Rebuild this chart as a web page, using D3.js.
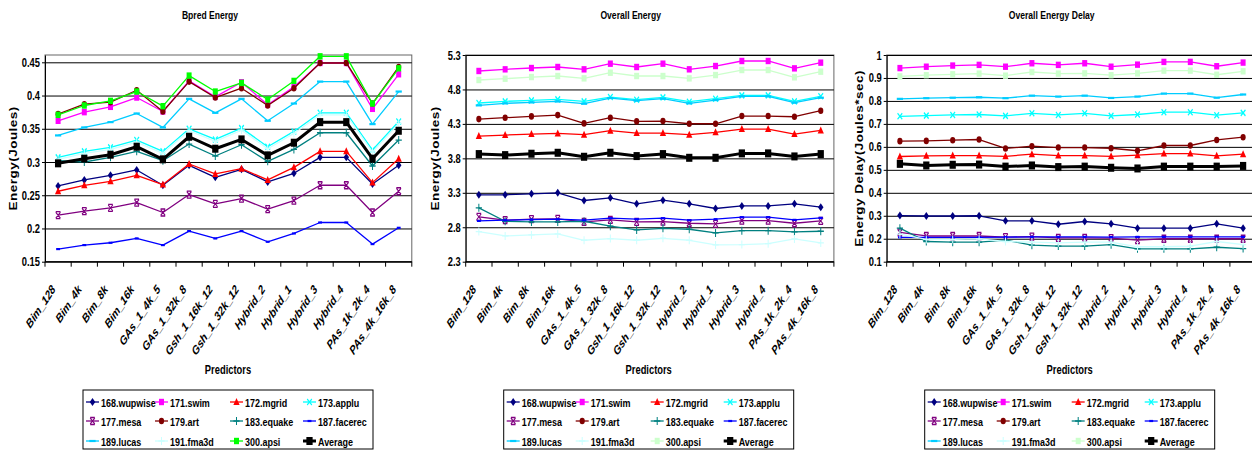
<!DOCTYPE html>
<html lang="en">
<head>
<meta charset="UTF-8">
<title>Bpred / Overall Energy</title>
<script src="https://cdn.jsdelivr.net/npm/d3@7"></script>
<style>
  body { margin: 0; background: #fff; }
  svg { display: block; font-family: "Liberation Sans", Arial, sans-serif; }
</style>
</head>
<body>
<svg></svg>
<script>
const width = 1252, height = 451;
const SX = 0.78;   // the original picture is squeezed sideways, so text is squeezed too

// ---- data ----
const predictors = ['Bim_128', 'Bim_4k', 'Bim_8k', 'Bim_16k', 'GAs_1_4k_5', 'GAs_1_32k_8', 'Gsh_1_16k_12',
    'Gsh_1_32k_12', 'Hybrid_2', 'Hybrid_1', 'Hybrid_3', 'Hybrid_4', 'PAs_1k_2k_4', 'PAs_4k_16k_8'];
const benchmarks = ['168.wupwise', '171.swim', '172.mgrid', '173.applu', '177.mesa', '179.art',
    '183.equake', '187.facerec', '189.lucas', '191.fma3d', '300.apsi', 'Average'];

// one row per benchmark, same order as above
const bpredEnergy = [
    [0.264, 0.273, 0.280, 0.288, 0.265, 0.295, 0.277, 0.289, 0.270, 0.283, 0.307, 0.307, 0.267, 0.295],
    [0.362, 0.375, 0.383, 0.397, 0.376, 0.422, 0.398, 0.420, 0.386, 0.413, 0.449, 0.449, 0.380, 0.432],
    [0.256, 0.265, 0.271, 0.280, 0.266, 0.297, 0.282, 0.290, 0.273, 0.292, 0.316, 0.316, 0.269, 0.305],
    [0.307, 0.316, 0.322, 0.333, 0.316, 0.350, 0.334, 0.351, 0.323, 0.346, 0.374, 0.374, 0.318, 0.361],
    [0.220, 0.226, 0.231, 0.239, 0.224, 0.251, 0.237, 0.245, 0.229, 0.242, 0.265, 0.265, 0.224, 0.256],
    [0.372, 0.387, 0.390, 0.408, 0.376, 0.421, 0.397, 0.411, 0.385, 0.411, 0.449, 0.449, 0.388, 0.443],
    [0.302, 0.300, 0.307, 0.316, 0.302, 0.327, 0.309, 0.326, 0.301, 0.319, 0.344, 0.344, 0.294, 0.333],
    [0.169, 0.175, 0.1785, 0.185, 0.175, 0.196, 0.185, 0.196, 0.180, 0.1925, 0.209, 0.209, 0.1765, 0.201],
    [0.340, 0.352, 0.360, 0.373, 0.352, 0.395, 0.374, 0.395, 0.362, 0.388, 0.421, 0.421, 0.357, 0.406],
    [0.304, 0.313, 0.319, 0.330, 0.313, 0.347, 0.331, 0.348, 0.320, 0.343, 0.371, 0.371, 0.315, 0.358],
    [0.371, 0.385, 0.392, 0.406, 0.384, 0.430, 0.406, 0.419, 0.394, 0.422, 0.459, 0.459, 0.388, 0.441],
    [0.298, 0.305, 0.311, 0.323, 0.304, 0.338, 0.320, 0.334, 0.310, 0.329, 0.360, 0.360, 0.305, 0.347]
];
const overallEnergy = [
    [3.271, 3.271, 3.285, 3.300, 3.188, 3.227, 3.140, 3.193, 3.140, 3.072, 3.110, 3.110, 3.140, 3.091],
    [5.068, 5.092, 5.111, 5.126, 5.092, 5.174, 5.126, 5.174, 5.092, 5.140, 5.213, 5.213, 5.106, 5.189],
    [4.123, 4.138, 4.152, 4.162, 4.143, 4.201, 4.167, 4.167, 4.143, 4.177, 4.225, 4.225, 4.152, 4.205],
    [4.603, 4.627, 4.641, 4.656, 4.627, 4.690, 4.651, 4.685, 4.622, 4.666, 4.714, 4.714, 4.627, 4.700],
    [2.950, 2.902, 2.917, 2.921, 2.878, 2.907, 2.878, 2.883, 2.858, 2.849, 2.897, 2.897, 2.858, 2.892],
    [4.370, 4.390, 4.409, 4.428, 4.307, 4.390, 4.336, 4.341, 4.302, 4.302, 4.414, 4.414, 4.404, 4.491],
    [3.082, 2.887, 2.878, 2.878, 2.887, 2.815, 2.761, 2.785, 2.771, 2.717, 2.751, 2.751, 2.732, 2.742],
    [2.892, 2.902, 2.912, 2.917, 2.902, 2.931, 2.917, 2.931, 2.902, 2.917, 2.946, 2.946, 2.907, 2.936],
    [4.569, 4.598, 4.612, 4.627, 4.593, 4.675, 4.637, 4.666, 4.598, 4.646, 4.700, 4.700, 4.608, 4.680],
    [2.737, 2.674, 2.688, 2.703, 2.611, 2.635, 2.611, 2.640, 2.611, 2.543, 2.548, 2.562, 2.630, 2.572],
    [4.937, 4.956, 4.980, 4.995, 4.961, 5.043, 4.995, 4.995, 4.961, 5.009, 5.082, 5.082, 4.976, 5.058],
    [3.862, 3.847, 3.867, 3.881, 3.823, 3.881, 3.833, 3.862, 3.808, 3.808, 3.872, 3.872, 3.828, 3.862]
];
const energyDelay = [
    [0.301, 0.299, 0.299, 0.300, 0.278, 0.278, 0.263, 0.275, 0.265, 0.246, 0.246, 0.246, 0.265, 0.246],
    [0.943, 0.949, 0.954, 0.957, 0.949, 0.964, 0.957, 0.964, 0.949, 0.958, 0.970, 0.970, 0.951, 0.967],
    [0.558, 0.561, 0.562, 0.562, 0.559, 0.568, 0.562, 0.562, 0.559, 0.564, 0.571, 0.571, 0.561, 0.568],
    [0.733, 0.736, 0.739, 0.741, 0.735, 0.746, 0.739, 0.746, 0.735, 0.741, 0.751, 0.751, 0.738, 0.748],
    [0.228, 0.212, 0.212, 0.212, 0.207, 0.209, 0.204, 0.204, 0.203, 0.194, 0.200, 0.200, 0.200, 0.200],
    [0.625, 0.626, 0.629, 0.632, 0.593, 0.603, 0.597, 0.597, 0.594, 0.583, 0.606, 0.606, 0.630, 0.642],
    [0.246, 0.188, 0.185, 0.185, 0.194, 0.172, 0.168, 0.168, 0.174, 0.156, 0.156, 0.156, 0.163, 0.157],
    [0.206, 0.206, 0.206, 0.206, 0.207, 0.208, 0.208, 0.208, 0.207, 0.208, 0.208, 0.208, 0.208, 0.208],
    [0.809, 0.812, 0.814, 0.816, 0.812, 0.823, 0.819, 0.823, 0.813, 0.819, 0.832, 0.832, 0.814, 0.828],
    [0.220, 0.197, 0.197, 0.199, 0.188, 0.185, 0.182, 0.185, 0.185, 0.165, 0.165, 0.168, 0.188, 0.174],
    [0.907, 0.912, 0.916, 0.919, 0.910, 0.926, 0.919, 0.920, 0.912, 0.920, 0.932, 0.932, 0.914, 0.929],
    [0.526, 0.519, 0.522, 0.523, 0.514, 0.519, 0.512, 0.514, 0.509, 0.506, 0.514, 0.514, 0.514, 0.517]
];

const bpredTicks = [0.15, 0.2, 0.25, 0.3, 0.35, 0.4, 0.45];
const energyTicks = [2.3, 2.8, 3.3, 3.8, 4.3, 4.8, 5.3];
const delayTicks = [0.1, 0.2, 0.3, 0.4, 0.5, 0.6, 0.7, 0.8, 0.9, 1];

// ---- styles ----
const colors = ['#000080', '#FF00FF', '#FF0000', '#00FFFF', '#800080', '#800000',
    '#008080', '#0000FF', '#00CCFF', '#CCFFFF', '#CCFFCC', '#000000'];
const markers = ['diamond', 'square', 'triangle', 'x', 'star', 'circle',
    'plus', 'dash', 'longdash', 'plus', 'square', 'bigsquare'];

const panels = [
    { title: 'Bpred Energy', yTitle: 'Energy(Joules)', values: bpredEnergy, domain: [0.15, 0.461], ticks: bpredTicks, left: 45, step: 26.2, apsi: '#00FF00', yTitleX: -32 },
    { title: 'Overall Energy', yTitle: 'Energy(Joules)', values: overallEnergy, domain: [2.3, 5.3], ticks: energyTicks, left: 465.7, step: 26.3, apsi: '#CCFFCC', yTitleX: -30 },
    { title: 'Overall Energy Delay', yTitle: 'Energy Delay(Joules*sec)', values: energyDelay, domain: [0.1, 1], ticks: delayTicks, left: 886.7, step: 26.4, apsi: '#CCFFCC', yTitleX: -27 }
];

const plotTop = 55, plotBottom = 261.7;

const svg = d3.select('svg')
    .attr('width', width)
    .attr('height', height);

// squeezed text helper
function label(g, x, y, str, rot) {
    return g.append('text')
        .attr('transform', `translate(${x},${y}) scale(${SX},1)` + (rot ? ` rotate(${rot})` : ''))
        .text(str);
}

function drawMarker(g, type, color) {
    const s = g.append('g').attr('transform', `scale(${SX},1)`);
    if (type === 'diamond') s.append('path').attr('d', 'M0,-4L3.5,0L0,4L-3.5,0Z').attr('fill', color);
    else if (type === 'square') s.append('rect').attr('x', -3.2).attr('y', -3.2).attr('width', 6.4).attr('height', 6.4).attr('fill', color);
    else if (type === 'bigsquare') s.append('rect').attr('x', -4).attr('y', -4).attr('width', 8).attr('height', 8).attr('fill', color);
    else if (type === 'triangle') s.append('path').attr('d', 'M0,-4L4,3L-4,3Z').attr('fill', color);
    else if (type === 'circle') s.append('circle').attr('r', 3.3).attr('fill', color);
    else if (type === 'x') s.append('path').attr('d', 'M-3,-3L3,3M-3,3L3,-3').attr('stroke', color).attr('stroke-width', 1.5);
    else if (type === 'star') s.append('path').attr('d', 'M-3,-3L3,3M-3,3L3,-3M-3,-3.5L3,-3.5M-3,3.5L3,3.5').attr('stroke', color).attr('stroke-width', 1.3);
    else if (type === 'plus') s.append('path').attr('d', 'M-4,0L4,0M0,-4L0,4').attr('stroke', color).attr('stroke-width', 1.3);
    else if (type === 'dash') s.append('path').attr('d', 'M-2.5,0L2.5,0').attr('stroke', color).attr('stroke-width', 2.2);
    else if (type === 'longdash') s.append('path').attr('d', 'M-4,0L4,0').attr('stroke', color).attr('stroke-width', 2.2);
}

panels.forEach(p => {
    const g = svg.append('g');
    const right = p.left + p.step * predictors.length;

    const x = d3.scalePoint()
        .domain(predictors)
        .range([p.left, right])
        .padding(0.5);
    const y = d3.scaleLinear()
        .domain(p.domain)
        .range([plotBottom, plotTop]);

    // plot frame (top/right) and grid lines
    g.append('rect')
        .attr('x', p.left).attr('y', plotTop)
        .attr('width', right - p.left).attr('height', plotBottom - plotTop)
        .attr('fill', 'none').attr('stroke', '#666').attr('stroke-width', 1);
    g.append('g')
        .attr('transform', `translate(${p.left},0)`)
        .call(d3.axisLeft(y).tickValues(p.ticks).tickSize(-(right - p.left)).tickFormat(''))
        .call(a => a.select('.domain').remove())
        .call(a => a.selectAll('line').attr('stroke', '#000').attr('stroke-width', 1));

    // series, Average drawn last on top
    const line = d3.line().x((d, i) => x(predictors[i])).y(d => y(d));
    p.values.forEach((vals, k) => {
        const color = k === 10 ? p.apsi : colors[k];
        const sg = g.append('g');
        sg.append('path')
            .attr('d', line(vals))
            .attr('fill', 'none')
            .attr('stroke', color)
            .attr('stroke-width', k === 11 ? 3 : 1.3)
            .attr('stroke-linejoin', 'round');
        vals.forEach((v, i) => {
            const mg = sg.append('g').attr('transform', `translate(${x(predictors[i])},${y(v)})`);
            drawMarker(mg, markers[k], color);
        });
    });

    // y axis
    const ya = g.append('g')
        .attr('transform', `translate(${p.left},0)`)
        .call(d3.axisLeft(y).tickValues(p.ticks).tickSize(3).tickSizeOuter(0).tickFormat(d => +d.toFixed(2)));
    ya.select('.domain').attr('stroke', '#000');
    ya.selectAll('.tick line').attr('stroke', '#000');
    ya.selectAll('.tick text')
        .attr('x', null).attr('dy', null)
        .attr('transform', `translate(-5,4) scale(${SX},1)`)
        .attr('font-family', '"Liberation Sans", Arial, sans-serif')
        .attr('font-size', 12).attr('font-weight', 'bold').attr('fill', '#000');

    // x axis with ticks on band edges
    const xa = g.append('g').attr('transform', `translate(0,${plotBottom})`);
    xa.append('line').attr('x1', p.left).attr('x2', right).attr('stroke', '#000');
    d3.range(predictors.length + 1).forEach(i => {
        const tx = p.left + i * p.step;
        xa.append('line').attr('x1', tx).attr('x2', tx).attr('y1', 0).attr('y2', 5).attr('stroke', '#000');
    });
    predictors.forEach(c => {
        label(xa, x(c) - 2, 28, c, -50)
            .attr('text-anchor', 'end')
            .attr('font-size', 12.5).attr('font-weight', 'bold').attr('font-style', 'italic');
    });

    // titles
    label(g, p.left + 165, 18.5, p.title).attr('text-anchor', 'middle')
        .attr('font-size', 11).attr('font-weight', 'bold');
    label(g, p.left + 183, 374, 'Predictors').attr('text-anchor', 'middle')
        .attr('font-size', 12).attr('font-weight', 'bold');
    label(g, p.left + p.yTitleX, (plotTop + plotBottom) / 2 + 0, p.yTitle, -90)
        .attr('dy', '0.35em').attr('text-anchor', 'middle')
        .attr('font-size', 13.5).attr('font-weight', 'bold').attr('letter-spacing', 0.5);

    // legend
    const lg = g.append('g').attr('transform', `translate(${p.left + 38},390)`);
    lg.append('rect').attr('width', 290).attr('height', 59)
        .attr('fill', '#fff').attr('stroke', '#000').attr('stroke-width', 1);
    const colX = [3, 72, 147, 220];
    const rowY = [12, 31, 51];
    benchmarks.forEach((b, k) => {
        const color = k === 10 ? p.apsi : colors[k];
        const eg = lg.append('g').attr('transform', `translate(${colX[k % 4]},${rowY[Math.floor(k / 4)]})`);
        eg.append('line').attr('x1', 0).attr('x2', 13)
            .attr('stroke', color).attr('stroke-width', k === 11 ? 3 : 1.3);
        const mg = eg.append('g').attr('transform', 'translate(6.5,0)');
        drawMarker(mg, markers[k], color);
        label(eg, 15, 4.5, b).attr('font-size', 11.5).attr('font-weight', 'bold');
    });
});
</script>
</body>
</html>
